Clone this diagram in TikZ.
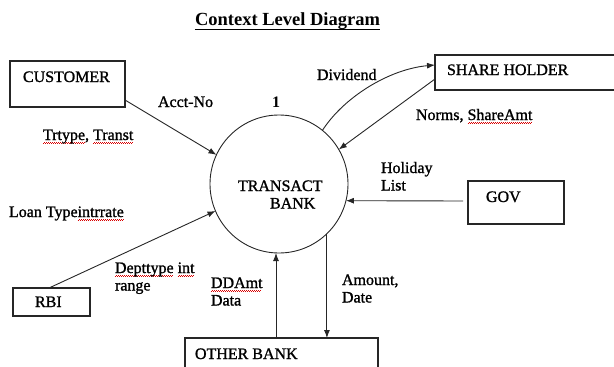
\documentclass[tikz,border=0pt]{standalone}
\usepackage{fontspec}
\setmainfont{Liberation Serif}[UprightFeatures={FakeBold=1.2}]
\usetikzlibrary{arrows.meta}

% red wavy spell-check mark under a word
\newsavebox\spellbox
\newcommand\spell[1]{\sbox\spellbox{#1}%
  \rlap{\raisebox{-3pt}{\color{red!85!black}\leaders\hbox to 2pt{\rule{1pt}{0.5pt}\raisebox{0.6pt}{\rule{1pt}{0.5pt}}}\hskip\wd\spellbox}}%
  \usebox\spellbox}
\newcommand\twolines[2]{\begin{tabular}[t]{@{}l@{}}#1\\#2\end{tabular}}

\begin{document}
\begin{tikzpicture}[x=1pt,y=-1pt,
  entity/.style={draw=black!85, line width=1.1pt, inner sep=0pt, outer sep=0pt, anchor=north west},
  lbl/.style={inner sep=0pt, outer sep=0pt, anchor=base west, font=\fontsize{16}{17.5}\selectfont},
  flow/.style={draw=black!85, line width=0.9pt, -{Latex[length=8pt,width=6pt]}}]
\useasboundingbox (0,0) rectangle (614,367);
\clip (0,0) rectangle (614,367);

% title
\node[inner sep=0pt, anchor=base, font=\fontsize{18.5}{20}\selectfont\bfseries] (title) at (287.5,25) {Context Level Diagram};
\draw[line width=1.2pt] ([yshift=-0.5pt]title.south west) -- ([yshift=-0.5pt]title.south east);

% external entities
\node[entity, minimum width=115pt, minimum height=46pt] (cust) at (10,61) {};
\node[entity, minimum width=200pt, minimum height=35pt] (share) at (435,55) {};
\node[entity, minimum width=96pt, minimum height=43pt] (gov) at (468,181) {};
\node[entity, minimum width=77pt, minimum height=28pt] (rbi) at (13,288) {};
\node[entity, minimum width=193pt, minimum height=40pt] (other) at (185,338) {};

% process
\node[draw=black!85, circle, minimum size=138pt, inner sep=0pt, outer sep=0pt, line width=0.9pt] (bank) at (279,184) {};

% entity and process names
\node[lbl] (tcust) at (23,82) {CUSTOMER};
\node[lbl] (tshare) at (447,75) {SHARE HOLDER};
\node[lbl] (tgov) at (486,202) {GOV};
\node[lbl] (trbi) at (35,307) {RBI};
\node[lbl] (tother) at (195,359) {OTHER BANK};
\node[lbl] (tbank) at (238,191) {\twolines{TRANSACT}{\hspace{32pt}BANK}};
\node[lbl, font=\fontsize{16}{17.5}\selectfont\bfseries] (num) at (272,107) {1};

% data flows
\draw[flow] ([yshift=7pt]cust.south east) -- (bank.155.6);
\draw[flow] (bank.51.3) .. controls +(22,-34) and +(-45,4) .. ([yshift=7.5pt]share.west);
\draw[flow] ([yshift=-6.5pt]share.west) -- (bank.30.4);
\draw[flow] ([xshift=-5pt,yshift=1.5pt]gov.west) -- (bank.-14);
\draw[flow] ([xshift=-2.5pt]rbi.north) -- (bank.203.7);
\draw[flow] ([xshift=-5.5pt]other.north) -- ([xshift=-3pt]bank.south);
\draw[flow] (bank.-46) -- (bank.-46 |- other.north);

% flow labels
\node[lbl] (lacct) at (158,107) {Acct-No};
\node[lbl] (ltr) at (43,140) {\spell{Trtype}, \spell{Transt}};
\node[lbl] (ldiv) at (317,80) {Dividend};
\node[lbl] (lnorms) at (416,120) {Norms, \spell{ShareAmt}};
\node[lbl] (lhol) at (381,173) {\twolines{Holiday}{List}};
\node[lbl] (lloan) at (9,217) {Loan Type\spell{intrrate}};
\node[lbl] (ldept) at (115,273) {\twolines{\spell{Depttype} \spell{int}}{range}};
\node[lbl] (ldd) at (211,288) {\twolines{\spell{DDAmt}}{Data}};
\node[lbl] (lamt) at (342,285) {\twolines{Amount,}{Date}};
\end{tikzpicture}
\end{document}
